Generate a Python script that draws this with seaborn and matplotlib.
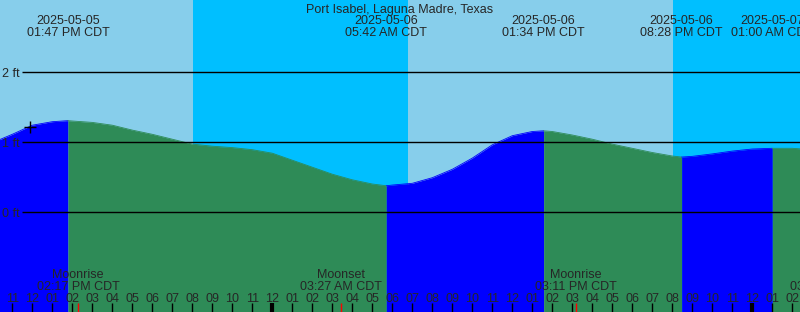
import numpy as np
import pandas as pd
import matplotlib
matplotlib.use("Agg")
import matplotlib.pyplot as plt
import seaborn as sns

# ---------------- data ----------------
# hours since 2025-05-05 00:00 CDT
tide_hours = [10, 11, 12, 13, 13.783, 14, 15, 16, 17, 18, 19, 20, 21, 22, 23, 24,
              25, 26, 27, 28, 29, 29.7, 30, 31, 32, 33, 34, 35, 36, 37, 37.567,
              38, 39, 40, 41, 42, 43, 44, 44.467, 45, 46, 47, 48, 49, 50, 51]
tide_ft = [0.99, 1.11, 1.24, 1.29, 1.305, 1.30, 1.28, 1.24, 1.17, 1.11, 1.04, 0.97,
           0.94, 0.92, 0.89, 0.84, 0.74, 0.64, 0.54, 0.46, 0.40, 0.375, 0.385, 0.41,
           0.49, 0.61, 0.77, 0.96, 1.09, 1.15, 1.16, 1.15, 1.10, 1.04, 0.97, 0.91,
           0.85, 0.80, 0.785, 0.795, 0.83, 0.87, 0.90, 0.91, 0.91, 0.89]

# tide extremes (high / low) with labels
extreme_hours = [13.783, 29.7, 37.567, 44.467, 49.0]
extreme_dates = ["2025-05-05", "2025-05-06", "2025-05-06", "2025-05-06", "2025-05-07"]
extreme_times = ["01:47 PM CDT", "05:42 AM CDT", "01:34 PM CDT", "08:28 PM CDT", "01:00 AM CDT"]

# moon events
moon_hours = [14.283, 27.45, 39.183, 51.95]
moon_names = ["Moonrise", "Moonset", "Moonrise", "Moonset"]
moon_times = ["02:17 PM CDT", "03:27 AM CDT", "03:11 PM CDT", "03:57 AM CDT"]

# sun: night intervals
night_start = [20.03, 44.03]
night_end = [30.78, 60.0]

title = "Port Isabel, Laguna Madre, Texas"
y_ticks_ft = [0, 1, 2]
now_hour, now_ft = 11.88, 1.21

# ---------------- drawing ----------------
sns.set_theme(style="white")
plt.rcParams["font.family"] = ["Liberation Sans", "DejaVu Sans"]

X0, X1 = 10.385, 50.385
Y0, Y1 = -100 / 70, 212 / 70
DAY, NIGHT = "#87CEEB", "#00BFFF"
RISE, FALL = "#0000FF", "#2E8B57"
FS = 9
DY = 2.0  # vertical pixel nudge for text


def yf(pix):
    return 1 - (pix + DY) / 312


fig = plt.figure(figsize=(8, 3.12), dpi=100)
ax = fig.add_axes([0, 0, 1, 1])

ax.axvspan(X0 - 5, X1 + 5, color=DAY, lw=0, zorder=0)
for s, e in zip(night_start, night_end):
    ax.axvspan(s, e, color=NIGHT, lw=0, zorder=0.5)

df = pd.DataFrame({"hour": tide_hours, "ft": tide_ft})
bounds = [tide_hours[0]] + extreme_hours + [tide_hours[-1]]
rising = True
for a, b in zip(bounds[:-1], bounds[1:]):
    seg = df[(df.hour >= a) & (df.hour <= b)]
    col = RISE if rising else FALL
    ax.fill_between(seg.hour, Y0 - 1, seg.ft, color=col, lw=0, zorder=1)
    sns.lineplot(data=seg, x="hour", y="ft", color=col, lw=0.6, ax=ax, zorder=1.1)
    rising = not rising
ax.set_xlim(X0, X1)
ax.set_ylim(Y0, Y1)
ax.axis("off")

# level lines
ax.hlines(y_ticks_ft, X0 + 22 / 20, X1 + 1, color="black", lw=1, zorder=2)
for v in y_ticks_ft:
    ax.text(X0 + 0.1, v - DY / 70, f"{v} ft", ha="left", va="center", fontsize=FS, zorder=3)

# now marker
ax.plot([now_hour], [now_ft], marker="+", ms=9, mew=1, color="black", zorder=3)

xt = ax.get_xaxis_transform()
ax.text(0.5, yf(8), title, transform=ax.transAxes, ha="center", va="center", fontsize=FS)
for h, d, t in zip(extreme_hours, extreme_dates, extreme_times):
    ax.text(h, yf(19.5), d, transform=xt, ha="center", va="center", fontsize=FS)
    ax.text(h, yf(31.5), t, transform=xt, ha="center", va="center", fontsize=FS)

for h, n, t in zip(moon_hours, moon_names, moon_times):
    ax.text(h, yf(273.5), n, transform=xt, ha="center", va="center", fontsize=FS)
    ax.text(h, yf(285.5), t, transform=xt, ha="center", va="center", fontsize=FS)
    ax.vlines(h, 0, 9 / 312, transform=xt, color="red", lw=1, zorder=4)

# hour ticks
for hr in range(10, 52):
    h12 = (hr % 24) % 12 or 12
    ax.text(hr, yf(297.5), f"{h12:02d}", transform=xt, ha="center", va="center", fontsize=FS)
    ax.vlines(hr, 0, 9 / 312, transform=xt, color="black", lw=3 if hr % 24 == 0 else 1, zorder=4)

fig.savefig("out.png", dpi=100)
